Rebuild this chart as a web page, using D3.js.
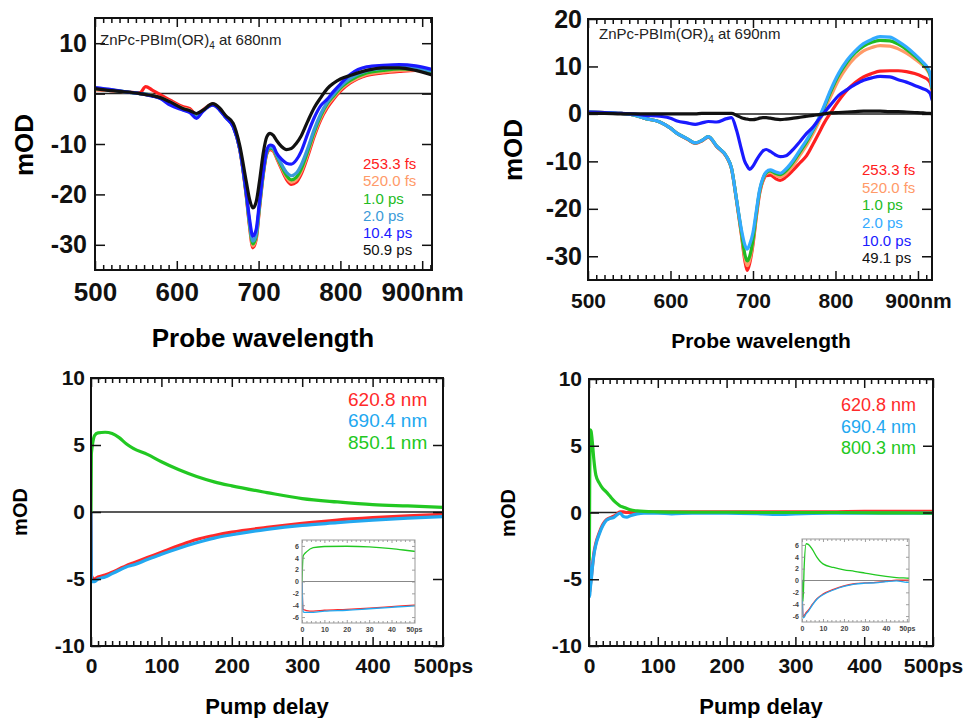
<!DOCTYPE html>
<html>
<head>
<meta charset="utf-8">
<script src="https://cdn.jsdelivr.net/npm/d3@7"></script>
<style>
body { margin: 0; background: #fff; }
svg { display: block; }
</style>
</head>
<body>
<svg id="fig" width="963" height="718"></svg>
<script>
// ---------- data: spectra, 680 nm excitation ----------
const wl680 = [500, 520, 540, 555, 562, 570, 580, 592, 608, 616, 624, 632, 644, 652, 660, 669, 677, 685, 689, 693,
  697, 701, 706, 710, 714, 718, 722, 728, 734, 740, 746, 752, 760, 768, 776, 784, 792, 800, 812, 832, 852, 872, 892, 912];
const a680_253fs = [0.8, 0.6, 0.3, 0.2, 1.4, 0.7, -0.2, -1.3, -2.6, -3.0, -4.2, -3.2, -2.1, -3.0, -4.6, -6.5, -11.2, -20.5, -26.5, -30.6,
  -29.0, -23.0, -15.8, -12.0, -11.1, -11.4, -12.8, -15.0, -17.0, -18.0, -17.6, -16.0, -12.5, -8.5, -5.2, -2.8, -1.0, 0.5, 2.1, 3.6, 4.1, 4.4, 4.6, 4.4];
const a680_520fs = [0.8, 0.6, 0.3, 0.0, -0.1, -0.3, -0.8, -1.6, -2.9, -3.3, -4.4, -3.3, -2.1, -3.0, -4.6, -6.4, -11.1, -20.3, -26.2, -30.2,
  -28.7, -22.7, -15.6, -11.8, -10.9, -11.2, -12.6, -14.7, -16.6, -17.6, -17.1, -15.5, -12.0, -8.0, -4.8, -2.4, -0.7, 0.8, 2.3, 3.8, 4.3, 4.6, 4.7, 4.4];
const a680_1ps = [1.0, 0.7, 0.3, 0.0, -0.1, -0.4, -0.9, -1.9, -3.1, -3.5, -4.6, -3.4, -2.2, -3.1, -4.7, -6.5, -11.0, -20.2, -26.0, -29.8,
  -28.4, -22.5, -15.5, -11.7, -10.8, -11.0, -12.4, -14.4, -16.2, -17.1, -16.6, -15.0, -11.5, -7.6, -4.4, -2.0, -0.4, 1.1, 2.6, 4.1, 4.6, 4.9, 4.8, 4.3];
const a680_2ps = [1.1, 0.7, 0.3, 0.0, -0.1, -0.4, -0.9, -2.0, -3.2, -3.6, -4.7, -3.4, -2.2, -3.1, -4.7, -6.5, -11.0, -20.0, -25.7, -29.3,
  -28.0, -22.2, -15.3, -11.5, -10.6, -10.8, -12.2, -14.0, -15.6, -16.3, -15.8, -14.2, -10.9, -7.1, -4.0, -1.7, -0.1, 1.4, 3.0, 4.5, 5.0, 5.2, 5.0, 4.5];
const a680_10ps = [1.2, 0.8, 0.3, 0.0, -0.2, -0.5, -1.0, -2.3, -3.3, -3.8, -4.9, -3.5, -2.3, -3.2, -4.8, -6.6, -11.0, -19.8, -25.0, -28.3,
  -27.0, -21.6, -15.0, -11.2, -10.2, -10.4, -11.8, -13.0, -13.8, -14.0, -13.2, -11.5, -8.0, -4.8, -2.4, -1.1, 0.5, 1.9, 3.8, 5.3, 5.6, 5.75, 5.5, 4.8];
const a680_50ps = [1.0, 0.6, 0.3, 0.0, -0.2, -0.4, -0.8, -1.65, -3.0, -3.4, -3.95, -3.3, -2.0, -2.8, -4.4, -5.9, -10.3, -17.5, -21.0, -22.7,
  -21.5, -17.5, -11.5, -8.6, -7.9, -8.3, -9.3, -10.5, -11.1, -10.9, -9.9, -8.4, -5.5, -2.8, -0.8, 1.0, 2.1, 2.9, 3.6, 4.6, 5.1, 5.1, 4.6, 3.7];

// ---------- data: spectra, 690 nm excitation ----------
const wl690 = [500, 520, 540, 555, 570, 587, 600, 608, 620, 630, 638, 646, 656, 668, 674, 680, 686, 690, 693, 696,
  700, 704, 708, 712, 716, 721, 727, 733, 740, 749, 757, 765, 773, 780, 786, 794, 804, 814, 824, 834,
  844, 854, 866, 876, 886, 896, 906, 912, 915, 917];
const b690_253fs = [0.4, 0.3, 0.1, -0.2, -1.0, -1.7, -3.0, -4.1, -5.3, -6.2, -5.7, -4.9, -6.9, -9.1, -11.6, -18.2, -25.5, -30.8, -33.0, -31.5,
  -27.5, -21.8, -16.8, -14.2, -13.0, -12.9, -13.6, -14.0, -13.3, -11.8, -10.3, -8.8, -6.3, -4.0, -2.0, 0.2, 2.8, 5.0, 6.6, 7.8,
  8.5, 9.0, 9.1, 9.1, 8.9, 8.5, 7.8, 7.2, 6.5, 5.0];
const b690_520fs = [0.4, 0.3, 0.1, -0.2, -1.0, -1.7, -3.0, -4.1, -5.2, -6.1, -5.6, -4.8, -6.8, -9.0, -11.5, -18.1, -25.3, -30.2, -32.0, -30.8,
  -27.0, -21.3, -16.5, -13.9, -12.6, -12.3, -12.9, -13.3, -12.6, -10.8, -8.7, -6.6, -4.1, -1.6, 0.6, 3.6, 7.2, 9.9, 11.9, 13.3,
  14.0, 14.4, 14.3, 13.7, 12.8, 11.6, 10.2, 9.0, 7.8, 5.2];
const b690_1ps = [0.4, 0.3, 0.1, -0.2, -1.0, -1.7, -3.0, -4.1, -5.2, -6.1, -5.6, -4.8, -6.8, -9.0, -11.5, -18.0, -25.0, -29.5, -31.0, -30.0,
  -26.5, -21.0, -16.3, -13.7, -12.4, -12.0, -12.5, -12.8, -12.0, -10.1, -8.0, -5.9, -3.4, -1.0, 1.3, 4.6, 8.2, 10.9, 12.9, 14.3,
  15.1, 15.5, 15.4, 14.7, 13.6, 12.2, 10.6, 9.3, 8.0, 5.4];
const b690_2ps = [0.4, 0.3, 0.1, -0.2, -1.0, -1.7, -3.0, -4.1, -5.2, -6.1, -5.6, -4.8, -6.8, -9.0, -11.5, -18.0, -24.4, -27.5, -28.5, -27.5,
  -25.0, -20.5, -16.0, -13.5, -12.2, -11.8, -12.2, -12.5, -11.6, -9.7, -7.6, -5.5, -3.2, -0.8, 1.6, 5.0, 8.6, 11.3, 13.3, 14.8,
  15.7, 16.3, 16.2, 15.3, 14.1, 12.6, 10.9, 9.6, 8.2, 5.6];
const b690_10ps = [0.4, 0.3, 0.1, 0.0, -0.3, -0.5, -0.9, -1.5, -1.9, -2.2, -1.9, -1.6, -1.7, -1.0, -0.8, -3.4, -7.5, -10.0, -11.0, -11.7,
  -11.0, -9.8, -8.7, -7.8, -7.5, -7.9, -8.6, -9.0, -8.8, -7.4, -5.8, -4.1, -2.7, -1.1, 0.2, 1.9, 3.9, 5.1, 6.2, 7.1,
  7.6, 7.9, 7.8, 7.2, 6.7, 6.0, 5.3, 4.8, 4.2, 3.0];
const b690_49ps = [0.1, 0.1, 0.0, 0.0, 0.0, 0.0, 0.0, 0.0, 0.0, 0.0, 0.1, 0.1, 0.1, 0.1, 0.1, -0.3, -0.8, -1.0, -1.1, -1.2,
  -1.2, -1.1, -0.9, -0.8, -0.8, -0.9, -1.1, -1.2, -1.1, -0.9, -0.7, -0.5, -0.3, -0.15, 0.0, 0.2, 0.3, 0.4, 0.5, 0.6,
  0.6, 0.6, 0.5, 0.5, 0.4, 0.3, 0.2, 0.1, 0.1, 0.0];

// ---------- data: kinetics ----------
const tLeft = [0, 0.5, 1, 2, 5, 10, 20, 30, 40, 50, 60, 80, 100, 125, 150, 175, 200, 250, 300, 350, 400, 450, 500];
const kL_620 = [0, -4.7, -4.8, -4.9, -5.0, -4.85, -4.7, -4.5, -4.25, -4.0, -3.8, -3.4, -3.0, -2.5, -2.05, -1.75, -1.5, -1.15, -0.85, -0.6, -0.42, -0.28, -0.17];
const kL_690 = [0, -5.1, -5.2, -5.2, -5.2, -5.0, -4.85, -4.6, -4.35, -4.1, -3.95, -3.55, -3.15, -2.7, -2.3, -1.95, -1.7, -1.3, -1.0, -0.8, -0.6, -0.45, -0.35];
const kL_850 = [0, 4.3, 4.6, 5.0, 5.7, 5.9, 5.95, 5.85, 5.55, 5.1, 4.75, 4.3, 3.75, 3.15, 2.65, 2.25, 1.95, 1.45, 1.0, 0.75, 0.55, 0.45, 0.35];

const tRight = [0, 0.5, 1, 2, 3, 5, 7, 10, 15, 20, 25, 30, 35, 40, 45, 50, 55, 60, 70, 80, 100, 120, 150, 200, 250, 280, 300, 350, 400, 450, 500];
const kR_620 = [0, -6.0, -5.9, -5.4, -5.0, -4.0, -3.1, -2.3, -1.5, -0.9, -0.55, -0.4, -0.3, -0.15, 0.05, 0.05, 0.0, 0.0, 0.05, 0.05,
  0.05, 0.05, 0.05, 0.05, 0.05, 0.05, 0.05, 0.05, 0.08, 0.08, 0.08];
const kR_690 = [0, -6.3, -6.2, -5.6, -5.2, -4.1, -3.2, -2.4, -1.6, -1.0, -0.6, -0.45, -0.4, -0.2, -0.05, -0.3, -0.35, -0.25, -0.1, -0.05,
  -0.05, -0.1, -0.05, -0.05, -0.1, -0.15, -0.1, -0.05, -0.05, -0.05, -0.05];
const kR_800 = [0, -3.5, 2.0, 6.2, 6.1, 5.2, 4.0, 2.8, 2.2, 1.8, 1.55, 1.25, 0.95, 0.7, 0.5, 0.4, 0.3, 0.2, 0.12, 0.08,
  0.05, 0.03, 0.02, 0.02, 0.0, 0.0, 0.0, 0.0, -0.02, -0.03, -0.05];

// ---------- labels ----------
const legend680 = ["253.3 fs", "520.0 fs", "1.0 ps", "2.0 ps", "10.4 ps", "50.9 ps"];
const legend690 = ["253.3 fs", "520.0 fs", "1.0 ps", "2.0 ps", "10.0 ps", "49.1 ps"];
const legendKinL = ["620.8 nm", "690.4 nm", "850.1 nm"];
const legendKinR = ["620.8 nm", "690.4 nm", "800.3 nm"];
const specYTicks680 = [10, 0, -10, -20, -30];
const specYTicks690 = [20, 10, 0, -10, -20, -30];
const specXTicks = [500, 600, 700, 800, 900];
const kinXTicks = [0, 100, 200, 300, 400, 500];
const kinYTicks = [10, 5, 0, -5, -10];
const insetXTicks = [0, 10, 20, 30, 40, 50];
const insetYTicks = [6, 4, 2, 0, -2, -4, -6];

const FONT = '"Liberation Sans", Arial, Helvetica, sans-serif';
const svg = d3.select("#fig").attr("font-family", FONT);
var clipCount = 0;

////////// one framed panel with curves //////////
function drawPanel(o) {
    var g = svg.append("g");
    var x = d3.scaleLinear().domain(o.xDomain).range([o.left, o.right]);
    var y = d3.scaleLinear().domain(o.yDomain).range([o.bottom, o.top]);

    var clipId = "clip" + (clipCount++);
    svg.append("clipPath").attr("id", clipId)
        .append("rect")
        .attr("x", o.left).attr("y", o.top)
        .attr("width", o.right - o.left).attr("height", o.bottom - o.top);

    if (o.background) {
        g.append("rect")
            .attr("x", o.left).attr("y", o.top)
            .attr("width", o.right - o.left).attr("height", o.bottom - o.top)
            .attr("fill", "#fff");
    }

    // zero line
    g.append("line")
        .attr("x1", o.left).attr("x2", o.right)
        .attr("y1", y(0)).attr("y2", y(0))
        .attr("stroke", o.zeroColor)
        .attr("stroke-width", o.zeroWidth);

    var line = d3.line()
        .x(function(d, i) { return x(o.xs[i]); })
        .y(function(d) { return y(d); })
        .curve(d3.curveMonotoneX);

    g.append("g")
        .attr("clip-path", "url(#" + clipId + ")")
        .selectAll("path")
        .data(o.series)
        .join("path")
        .attr("d", function(s) { return line(s.values); })
        .attr("fill", "none")
        .attr("stroke", function(s) { return s.color; })
        .attr("stroke-width", o.lineWidth)
        .attr("stroke-linejoin", "round")
        .attr("stroke-linecap", "round");

    // inward ticks on all four sides
    function ticks(axisFn, scale, vals, len, tr) {
        if (!vals.length) return;
        g.append("g")
            .attr("transform", tr)
            .call(axisFn(scale).tickValues(vals).tickSize(-len).tickFormat(""))
            .call(function(a) { a.select(".domain").remove(); })
            .selectAll("line")
            .attr("stroke", o.tickColor)
            .attr("stroke-width", o.tickWidth);
    }
    var xMinor = d3.range(o.xDomain[0], o.xDomain[1] + 0.001, o.xMinorStep)
        .filter(function(v) { return o.xTicks.indexOf(v) < 0; });
    ticks(d3.axisBottom, x, xMinor, o.minorLen, "translate(0," + o.bottom + ")");
    ticks(d3.axisTop, x, xMinor, o.minorLen, "translate(0," + o.top + ")");
    ticks(d3.axisBottom, x, o.xTicks, o.majorLen, "translate(0," + o.bottom + ")");
    ticks(d3.axisTop, x, o.xTicks, o.majorLen, "translate(0," + o.top + ")");
    ticks(d3.axisLeft, y, o.yTicks, o.yLen, "translate(" + o.left + ",0)");
    ticks(d3.axisRight, y, o.yTicks, o.yLen, "translate(" + o.right + ",0)");

    // frame
    g.append("rect")
        .attr("x", o.left).attr("y", o.top)
        .attr("width", o.right - o.left).attr("height", o.bottom - o.top)
        .attr("fill", "none")
        .attr("stroke", o.frameColor)
        .attr("stroke-width", o.frameWidth);

    // tick labels
    var lastX = o.xTicks[o.xTicks.length - 1];
    g.append("g")
        .attr("transform", "translate(0," + o.bottom + ")")
        .call(d3.axisBottom(x).tickValues(o.xTicks).tickSize(0).tickPadding(o.xPad)
            .tickFormat(function(v) { return v === lastX ? v + o.xUnit : String(v); }))
        .attr("font-family", FONT)
        .attr("font-size", o.xFont)
        .attr("font-weight", "bold")
        .call(function(a) { a.select(".domain").remove(); })
        .selectAll("text").attr("fill", o.labelColor);

    g.append("g")
        .attr("transform", "translate(" + o.left + ",0)")
        .call(d3.axisLeft(y).tickValues(o.yTicks).tickSize(0).tickPadding(o.yPad)
            .tickFormat(function(v) { return String(v); }))
        .attr("font-family", FONT)
        .attr("font-size", o.yFont)
        .attr("font-weight", "bold")
        .call(function(a) { a.select(".domain").remove(); })
        .selectAll("text").attr("fill", o.labelColor);

    return { g: g, x: x, y: y };
}

// legends are left-aligned text stacks
function drawLegend(items, xLeft, yTop, step, size) {
    svg.append("g")
        .selectAll("text")
        .data(items)
        .join("text")
        .attr("x", xLeft)
        .attr("y", function(d, i) { return yTop + i * step; })
        .attr("dy", "0.35em")
        .attr("font-size", size)
        .attr("fill", function(d) { return d.color; })
        .text(function(d) { return d.label; });
}

function axisTitle(text, x, y, size, rotate) {
    svg.append("text")
        .attr("transform", "translate(" + x + "," + y + ")" + (rotate ? " rotate(-90)" : ""))
        .attr("text-anchor", "middle")
        .attr("font-size", size)
        .attr("font-weight", "bold")
        .text(text);
}

function annotate(x, y, exc) {
    var t = svg.append("text").attr("x", x).attr("y", y).attr("font-size", 15).attr("fill", "#222");
    t.append("tspan").text("ZnPc-PBIm(OR)");
    t.append("tspan").attr("dy", 4).attr("font-size", 10).text("4");
    t.append("tspan").attr("dy", -4).text(" at " + exc);
}

////////// colours //////////
const C680 = ["#ff2020", "#ff9a68", "#22bb22", "#3a9ad8", "#1a1aff", "#111111"];
const C690 = ["#ff2020", "#ff9a68", "#22bb22", "#33aaff", "#1a1aff", "#111111"];
const CKIN = ["#ff2a2a", "#22a8f0", "#22c822"];

function mkSeries(arrs, labels, colors) {
    return arrs.map(function(v, i) { return { values: v, label: labels[i], color: colors[i] }; });
}

////////// top-left: 680 nm spectra //////////
var s680 = mkSeries([a680_253fs, a680_520fs, a680_1ps, a680_2ps, a680_10ps, a680_50ps], legend680, C680);
drawPanel({
    left: 95, right: 432, top: 18, bottom: 270,
    xDomain: [500, 912], yDomain: [-35, 15],
    xs: wl680, series: s680, lineWidth: 3.2,
    xTicks: specXTicks, xMinorStep: 10, yTicks: specYTicks680,
    majorLen: 9, minorLen: 5, yLen: 10, tickColor: "#111", tickWidth: 1.5,
    frameColor: "#111", frameWidth: 2, zeroColor: "#222", zeroWidth: 1.5,
    xFont: 26, yFont: 25, xPad: 13, yPad: 8, xUnit: "nm", labelColor: "#111"
});
annotate(100, 45, "680nm");
drawLegend(s680, 363, 164, 17.2, 15);
axisTitle("mOD", 33, 145, 26, true);
axisTitle("Probe wavelength", 263, 347, 26, false);

////////// top-right: 690 nm spectra //////////
var s690 = mkSeries([b690_253fs, b690_520fs, b690_1ps, b690_2ps, b690_10ps, b690_49ps], legend690, C690);
drawPanel({
    left: 588, right: 932, top: 19, bottom: 280,
    xDomain: [500, 917], yDomain: [-35, 20],
    xs: wl690, series: s690, lineWidth: 3.2,
    xTicks: specXTicks, xMinorStep: 10, yTicks: specYTicks690,
    majorLen: 9, minorLen: 5, yLen: 10, tickColor: "#111", tickWidth: 1.5,
    frameColor: "#111", frameWidth: 2, zeroColor: "#222", zeroWidth: 1.5,
    xFont: 21, yFont: 25, xPad: 13, yPad: 6, xUnit: "nm", labelColor: "#111"
});
annotate(599, 39, "690nm");
drawLegend(s690, 862, 170, 17.6, 15);
axisTitle("mOD", 522, 150, 26, true);
axisTitle("Probe wavelength", 761, 348, 21, false);

////////// bottom-left: kinetics //////////
var kL = mkSeries([kL_620, kL_690, kL_850], legendKinL, CKIN);
drawPanel({
    left: 91, right: 443, top: 378, bottom: 646,
    xDomain: [0, 500], yDomain: [-10, 10],
    xs: tLeft, series: kL, lineWidth: 3.2,
    xTicks: kinXTicks, xMinorStep: 10, yTicks: kinYTicks,
    majorLen: 9, minorLen: 5, yLen: 10, tickColor: "#111", tickWidth: 1.5,
    frameColor: "#111", frameWidth: 2, zeroColor: "#222", zeroWidth: 1.5,
    xFont: 21, yFont: 21, xPad: 12, yPad: 6, xUnit: "ps", labelColor: "#111"
});
drawPanel({
    left: 302, right: 415, top: 540, bottom: 623, background: true,
    xDomain: [0, 50.5], yDomain: [-7, 7],
    xs: tLeft, series: kL, lineWidth: 1.3,
    xTicks: insetXTicks, xMinorStep: 2, yTicks: insetYTicks,
    majorLen: 3, minorLen: 2, yLen: 3, tickColor: "#888", tickWidth: 0.8,
    frameColor: "#999", frameWidth: 1, zeroColor: "#888", zeroWidth: 1,
    xFont: 7, yFont: 7, xPad: 4, yPad: 3, xUnit: "ps", labelColor: "#444"
});
drawLegend(kL, 348, 399, 21.5, 19);
axisTitle("mOD", 27, 512, 20, true);
axisTitle("Pump delay", 267, 714, 22, false);

////////// bottom-right: kinetics //////////
var kR = mkSeries([kR_620, kR_690, kR_800], legendKinR, CKIN);
drawPanel({
    left: 589, right: 933, top: 379, bottom: 646,
    xDomain: [0, 500], yDomain: [-10, 10],
    xs: tRight, series: kR, lineWidth: 3.2,
    xTicks: kinXTicks, xMinorStep: 10, yTicks: kinYTicks,
    majorLen: 9, minorLen: 5, yLen: 10, tickColor: "#111", tickWidth: 1.5,
    frameColor: "#111", frameWidth: 2, zeroColor: "#222", zeroWidth: 1.5,
    xFont: 21, yFont: 21, xPad: 12, yPad: 7, xUnit: "ps", labelColor: "#111"
});
drawPanel({
    left: 802, right: 909, top: 539, bottom: 622, background: true,
    xDomain: [0, 51], yDomain: [-7, 7],
    xs: tRight, series: kR, lineWidth: 1.3,
    xTicks: insetXTicks, xMinorStep: 2, yTicks: insetYTicks,
    majorLen: 3, minorLen: 2, yLen: 3, tickColor: "#888", tickWidth: 0.8,
    frameColor: "#999", frameWidth: 1, zeroColor: "#888", zeroWidth: 1,
    xFont: 7, yFont: 7, xPad: 4, yPad: 3, xUnit: "ps", labelColor: "#444"
});
drawLegend(kR, 841, 405, 21.5, 18);
axisTitle("mOD", 515, 513, 20, true);
axisTitle("Pump delay", 761, 714, 22, false);
</script>
</body>
</html>
